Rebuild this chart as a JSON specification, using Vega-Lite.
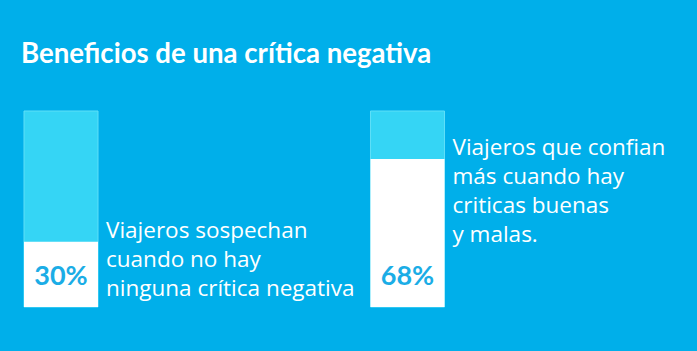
{
  "$schema": "https://vega.github.io/schema/vega-lite/v6.json",
  "width": 697,
  "height": 351,
  "autosize": {"type": "none"},
  "padding": 0,
  "background": "#00AFEA",
  "title": {
    "text": "Beneficios de una crítica negativa",
    "anchor": "start",
    "frame": "group",
    "orient": "top",
    "offset": 0,
    "baseline": "alphabetic",
    "dx": 21,
    "dy": 91,
    "font": "Lato",
    "fontWeight": "bold",
    "fontSize": 27.6,
    "color": "#ffffff"
  },
  "config": {"view": {"stroke": null}},
  "data": {
    "values": [
      {"grupo": "A", "pct": 30, "etiqueta": "30%", "texto": "Viajeros sospechan\ncuando no hay\nninguna crítica negativa"},
      {"grupo": "B", "pct": 68, "etiqueta": "68%", "texto": "Viajeros que confian\nmás cuando hay\ncriticas buenas\ny malas."}
    ]
  },
  "encoding": {
    "x": {"field": "grupo", "type": "nominal", "axis": null,
          "scale": {"range": [24, 444.5], "paddingInner": 0.7864, "paddingOuter": 0}}
  },
  "layer": [
    {
      "mark": {"type": "bar", "color": "#35D5F5", "stroke": "#5FDFF8", "strokeWidth": 1},
      "encoding": {
        "y": {"datum": 90, "type": "quantitative", "axis": null, "scale": {"domain": [0, 90], "range": [307, 111]}},
        "y2": {"datum": 0}
      }
    },
    {
      "mark": {"type": "bar", "color": "#ffffff"},
      "encoding": {
        "y": {"field": "pct", "type": "quantitative"}
      }
    },
    {
      "mark": {"type": "text", "font": "Lato", "fontWeight": "bold", "fontSize": 27, "color": "#1BADE6", "baseline": "alphabetic", "align": "center"},
      "encoding": {
        "y": {"datum": 10, "type": "quantitative"},
        "text": {"field": "etiqueta"}
      }
    },
    {
      "mark": {"type": "text", "font": "Open Sans", "fontWeight": 500, "fontSize": 22.5, "color": "#ffffff", "baseline": "alphabetic", "align": "left", "lineBreak": "\n", "lineHeight": 29, "dx": 45, "dy": -4},
      "encoding": {
        "y": {"field": "pct", "type": "quantitative"},
        "text": {"field": "texto"}
      }
    }
  ]
}
